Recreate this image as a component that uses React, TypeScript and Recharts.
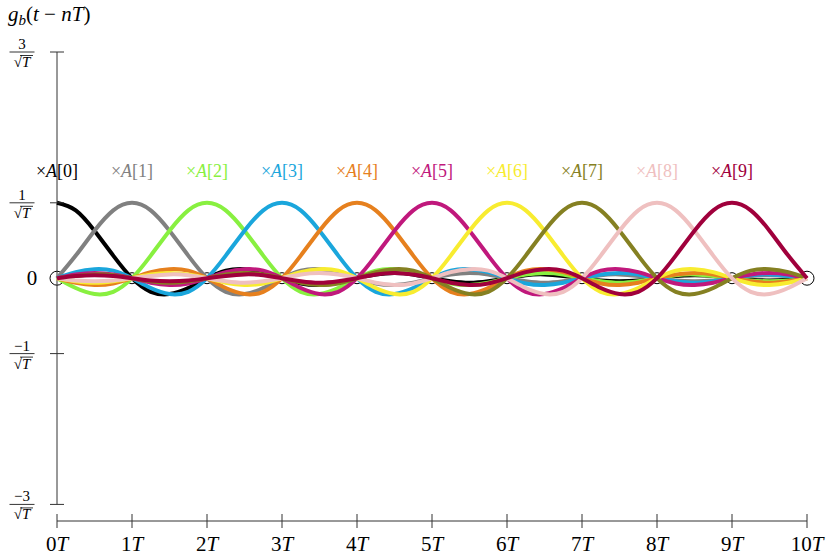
import { ComposedChart, Line, Scatter, XAxis, YAxis, ReferenceLine } from 'recharts'

const SERIF = "'Liberation Serif', 'Times New Roman', serif"
const serif = { fontFamily: SERIF }

// sample instants, in units of T
const T_GRID = [
  0, 0.25, 0.5, 0.75, 1, 1.25, 1.5, 1.75, 2, 2.25, 2.5, 2.75, 3, 3.25, 3.5, 3.75, 4, 4.25, 4.5, 4.75,
  5, 5.25, 5.5, 5.75, 6, 6.25, 6.5, 6.75, 7, 7.25, 7.5, 7.75, 8, 8.25, 8.5, 8.75, 9, 9.25, 9.5, 9.75, 10,
]

// pulse shape g_b (×√T), at |t - nT| = 0, 0.25T, 0.5T ... 10T
const PULSE = [
  1.0, 0.9, 0.63, 0.3, 0, -0.18, -0.21, -0.13, 0, 0.1, 0.12, 0.08, 0, -0.07, -0.09, -0.06, 0, 0.05, 0.07, 0.05,
  0, -0.04, -0.06, -0.04, 0, 0.04, 0.05, 0.03, 0, -0.03, -0.04, -0.03, 0, 0.03, 0.04, 0.03, 0, -0.02, -0.03, -0.02, 0,
]
const STEPS_PER_T = 4

const SYMBOLS = ['0', '1', '2', '3', '4', '5', '6', '7', '8', '9']
const COLORS = ['#000000', '#808080', '#88f040', '#1aa6dc', '#e6801e', '#c0187c', '#f8ec30', '#858022', '#efc0c0', '#a0003c']

const X_TICKS = [0, 1, 2, 3, 4, 5, 6, 7, 8, 9, 10]
const Y_TICKS = [-3, -1, 0, 1, 3]
const SAMPLE_POINTS = [0, 1, 2, 3, 4, 5, 6, 7, 8, 9, 10]
const LABEL_Y = 1.345

const series = SYMBOLS.map((_, n) =>
  T_GRID.map((t, k) => ({ t, v: PULSE[Math.abs(k - n * STEPS_PER_T)] }))
)
const circles = SAMPLE_POINTS.map(t => ({ t, v: 0 }))
const labels = SYMBOLS.map((s, i) => ({ t: i, v: LABEL_Y, s, color: COLORS[i] }))

const YTick = (props: any) => {
  const { x, y, payload } = props
  const v = payload.value
  if (v === 0) {
    return <text x={x - 25} y={y + 7} textAnchor="middle" fontSize={21} style={serif}>0</text>
  }
  const cx = x - 35
  return (
    <g>
      <line x1={x - 7} x2={x + 7} y1={y} y2={y} stroke="#333" />
      <text x={cx} y={y - 3} textAnchor="middle" fontSize={15} style={serif}>{v < 0 ? `−${-v}` : v}</text>
      <line x1={cx - 12.5} x2={cx + 12.5} y1={y} y2={y} stroke="#000" strokeWidth={0.8} />
      <text x={cx} y={y + 15} textAnchor="middle" fontSize={15} style={serif}>
        √<tspan fontStyle="italic">T</tspan>
      </text>
      <line x1={cx - 2} x2={cx + 11} y1={y + 3.5} y2={y + 3.5} stroke="#000" strokeWidth={0.8} />
    </g>
  )
}

const XTick = (props: any) => {
  const { x, y, payload } = props
  return (
    <g>
      <line x1={x} x2={x} y1={y - 7} y2={y + 7} stroke="#333" />
      <text x={x} y={y + 30} textAnchor="middle" fontSize={21} style={serif}>
        {payload.value}<tspan fontStyle="italic">T</tspan>
      </text>
    </g>
  )
}

const Circle = (props: any) => {
  const { cx, cy, payload } = props
  const end = payload.t === 0 || payload.t === 10
  return <circle cx={cx} cy={cy} r={end ? 7 : 5.5} fill="none" stroke="#000" strokeWidth={1} />
}

const Label = (props: any) => {
  const { cx, cy, payload } = props
  return (
    <text x={cx} y={cy} textAnchor="middle" fontSize={18} style={serif} fill={payload.color}>
      ×<tspan fontStyle="italic">A</tspan>[{payload.s}]
    </text>
  )
}

export default function App() {
  return (
    <div style={{ position: 'absolute', left: 0, top: 0, background: '#fff', fontFamily: SERIF }}>
      <ComposedChart width={826} height={555} margin={{ top: 52, right: 19, bottom: 0, left: 0 }} style={serif}>
        <XAxis
          type="number"
          dataKey="t"
          domain={[0, 10]}
          ticks={X_TICKS}
          interval={0}
          height={34}
          tickSize={0}
          tickMargin={0}
          tickLine={false}
          axisLine={{ stroke: '#333' }}
          tick={<XTick />}
        />
        <YAxis
          type="number"
          domain={[-3.22, 3]}
          ticks={Y_TICKS}
          interval={0}
          width={57}
          tickSize={0}
          tickMargin={0}
          tickLine={false}
          axisLine={false}
          tick={<YTick />}
        />
        <ReferenceLine segment={[{ x: 0, y: -3 }, { x: 0, y: 3 }]} stroke="#333" />
        <Scatter data={circles} dataKey="v" shape={<Circle />} isAnimationActive={false} zIndex={100} />
        {series.map((d, i) => (
          <Line
            key={i}
            data={d}
            dataKey="v"
            type="natural"
            stroke={COLORS[i]}
            strokeWidth={4}
            dot={false}
            activeDot={false}
            isAnimationActive={false}
          />
        ))}
        <Scatter data={labels} dataKey="v" shape={<Label />} isAnimationActive={false} />
        <text x={8} y={21} fontSize={21} style={serif}>
          <tspan fontStyle="italic">g</tspan>
          <tspan fontStyle="italic" fontSize={15} dy={4}>b</tspan>
          <tspan dy={-4}>(</tspan>
          <tspan fontStyle="italic">t</tspan> − <tspan fontStyle="italic">nT</tspan>)
        </text>
      </ComposedChart>
    </div>
  )
}
